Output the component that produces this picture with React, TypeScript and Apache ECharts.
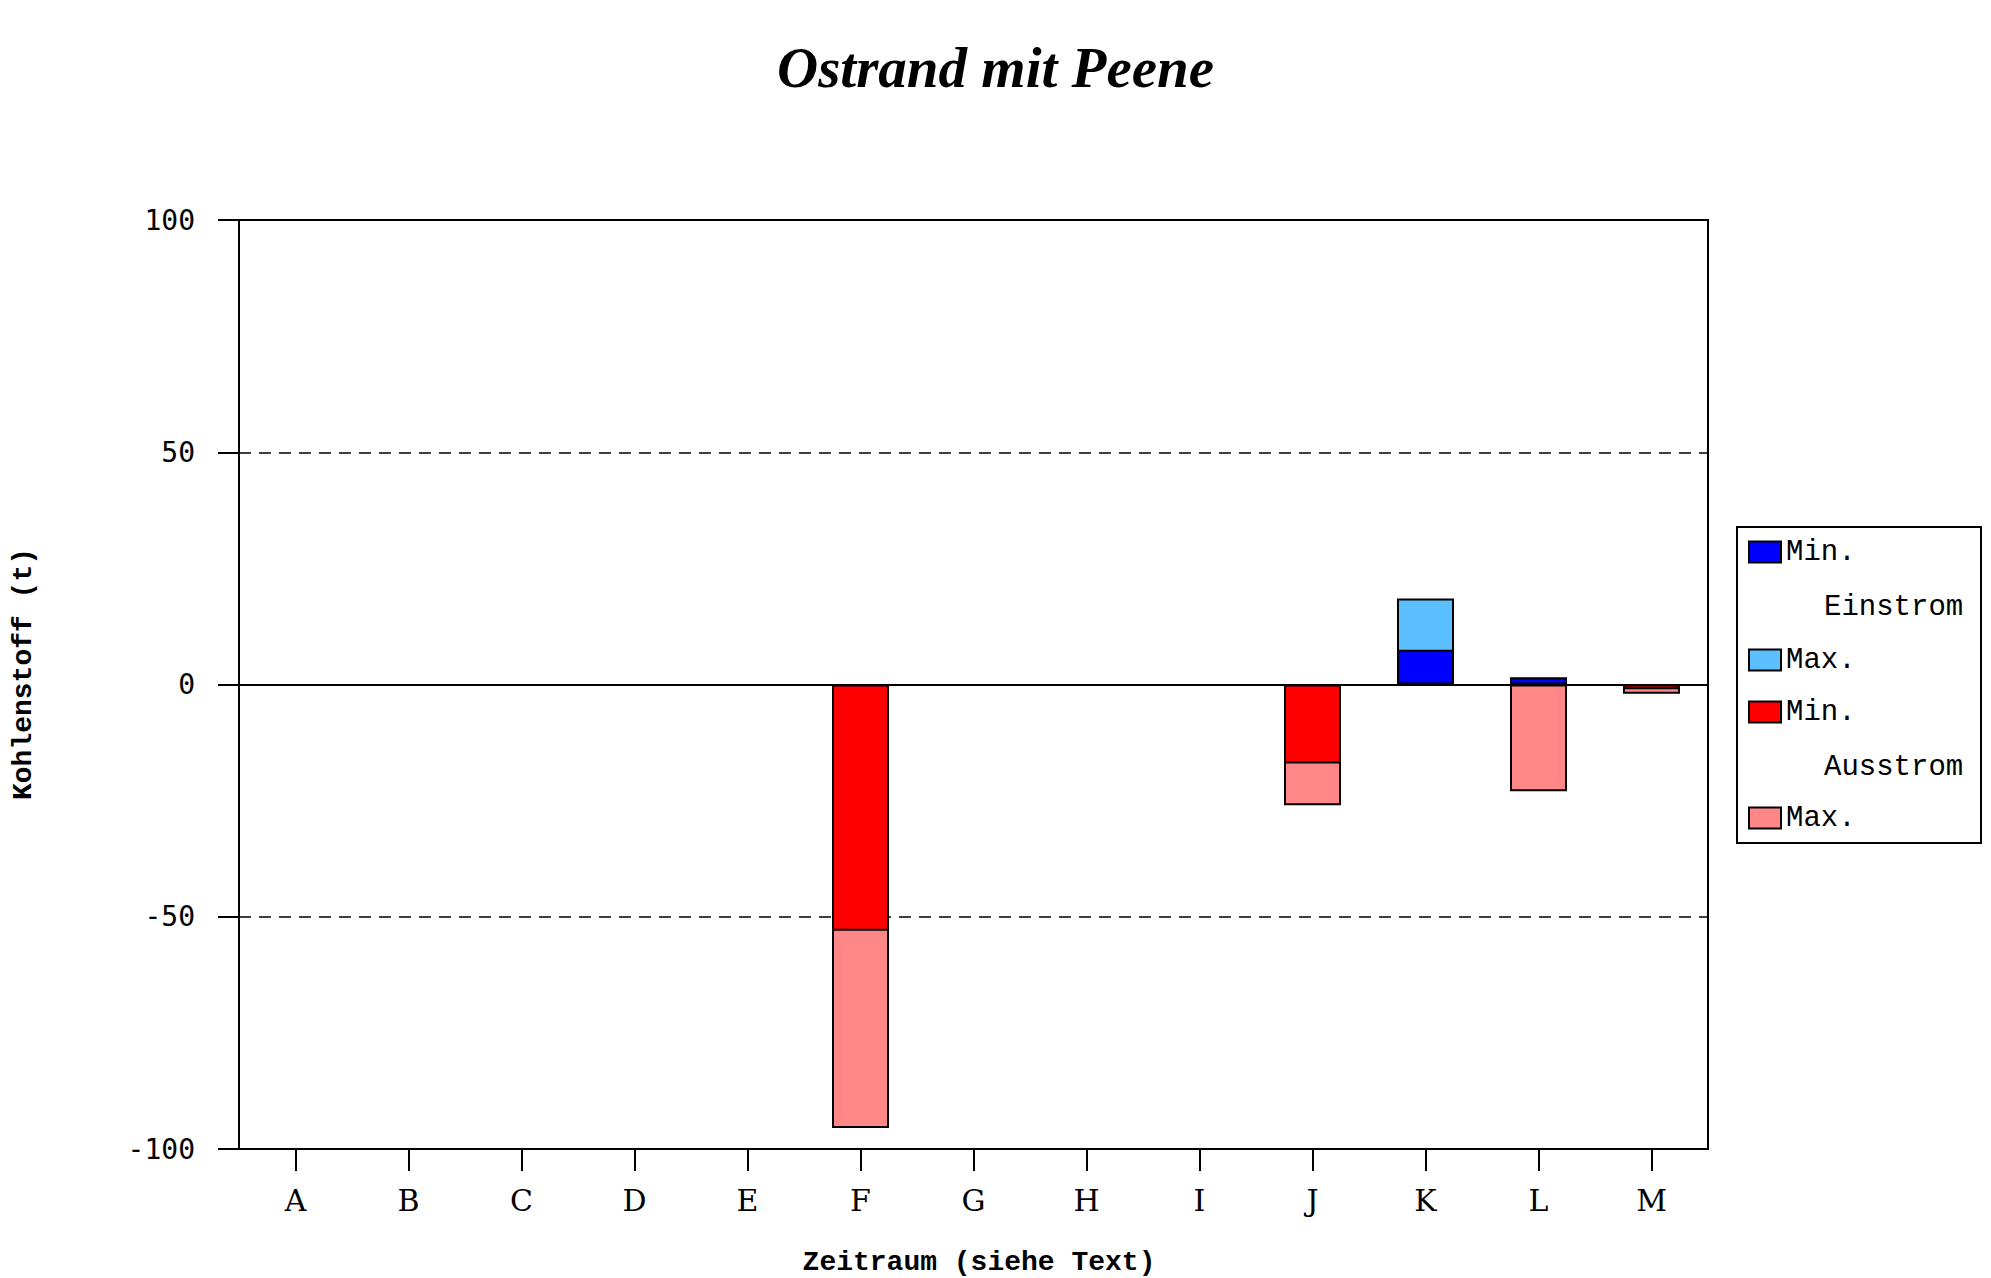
import React, { useEffect, useRef } from "react";
import * as echarts from "echarts";

const categories = ["A", "B", "C", "D", "E", "F", "G", "H", "I", "J", "K", "L", "M"];
const einstromMin = [null, null, null, null, null, null, null, null, null, null, 7.5, 1.5, null];
const einstromMax = [null, null, null, null, null, null, null, null, null, null, 18.5, 1.5, null];
const ausstromMin = [null, null, null, null, null, -53, null, null, null, -17, null, null, -1];
const ausstromMax = [null, null, null, null, null, -95.5, null, null, null, -26, null, -23, -2];
const yTicks = { min: -100, max: 100, interval: 50 };

const NAME_EIN_MIN = "Min. Einstrom";
const NAME_EIN_MAX = "Max. Einstrom";
const NAME_AUS_MIN = "Min. Ausstrom";
const NAME_AUS_MAX = "Max. Ausstrom";

export default function App() {
  const ref = useRef<HTMLDivElement>(null);
  useEffect(() => {
    if (!ref.current) return;
    const chart = echarts.init(ref.current, undefined, { renderer: "svg" });
    const barCommon = {
      type: "bar" as const,
      barWidth: 57,
      barGap: "-100%",
      emphasis: { disabled: true },
    };
    const legendCommon = (name: string, label: string, top: number) => ({
      data: [name],
      left: 1748,
      top,
      padding: 0,
      icon: "rect",
      itemWidth: 32,
      itemHeight: 21,
      selectedMode: false,
      formatter: () => label,
      textStyle: {
        fontFamily: "Liberation Mono",
        fontSize: 29,
        color: "#000",
        lineHeight: 30,
      },
    });
    chart.setOption({
      animation: false,
      backgroundColor: "#fff",
      title: {
        text: "Ostrand mit Peene",
        left: "center",
        top: 34,
        textStyle: {
          fontFamily: "Liberation Serif",
          fontStyle: "italic",
          fontWeight: "bold",
          fontSize: 57,
          color: "#000",
        },
      },
      grid: {
        left: 239,
        right: 283,
        top: 220,
        bottom: 129,
        show: true,
        borderColor: "#000",
        borderWidth: 2,
        containLabel: false,
      },
      legend: [
        legendCommon(NAME_EIN_MIN, "Min.", 537),
        legendCommon(NAME_EIN_MAX, "Max.", 645),
        legendCommon(NAME_AUS_MIN, "Min.", 697),
        legendCommon(NAME_AUS_MAX, "Max.", 803),
      ],
      xAxis: {
        type: "category",
        data: categories,
        boundaryGap: true,
        position: "bottom",
        axisLine: { show: true, onZero: false, lineStyle: { color: "#000", width: 2 } },
        axisTick: {
          show: true,
          alignWithLabel: true,
          interval: 0,
          length: 22,
          lineStyle: { color: "#000", width: 2 },
        },
        axisLabel: {
          margin: 36,
          interval: 0,
          fontFamily: "DejaVu Serif",
          fontSize: 30,
          color: "#000",
        },
        splitLine: { show: false },
      },
      yAxis: {
        type: "value",
        min: yTicks.min,
        max: yTicks.max,
        interval: yTicks.interval,
        axisLine: { show: true, lineStyle: { color: "#000", width: 2 } },
        axisTick: { show: true, length: 21, lineStyle: { color: "#000", width: 2 } },
        axisLabel: {
          margin: 44,
          fontFamily: "DejaVu Sans Mono",
          fontSize: 28,
          color: "#000",
        },
        splitLine: { show: true, lineStyle: { color: "#000", width: 1.5, type: [12, 8] } },
      },
      graphic: [
        {
          type: "rect",
          shape: { x: 1737, y: 527, width: 244, height: 316 },
          style: { fill: "none", stroke: "#000", lineWidth: 2 },
          z: 1,
        },
        {
          type: "text",
          x: 1824,
          y: 607,
          style: {
            text: "Einstrom",
            fontFamily: "Liberation Mono",
            fontSize: 29,
            fill: "#000",
            verticalAlign: "middle",
          },
        },
        {
          type: "text",
          x: 1824,
          y: 767,
          style: {
            text: "Ausstrom",
            fontFamily: "Liberation Mono",
            fontSize: 29,
            fill: "#000",
            verticalAlign: "middle",
          },
        },
        {
          type: "text",
          x: 23,
          y: 674,
          rotation: Math.PI / 2,
          style: {
            text: "Kohlenstoff (t)",
            fontFamily: "Liberation Mono",
            fontWeight: "bold",
            fontSize: 28,
            fill: "#000",
            align: "center",
            verticalAlign: "middle",
          },
        },
        {
          type: "text",
          x: 979,
          y: 1248,
          style: {
            text: "Zeitraum (siehe Text)",
            fontFamily: "Liberation Mono",
            fontWeight: "bold",
            fontSize: 28,
            fill: "#000",
            align: "center",
            verticalAlign: "top",
          },
        },
      ],
      series: [
        {
          ...barCommon,
          name: NAME_EIN_MAX,
          data: einstromMax,
          itemStyle: { color: "#5CBFFF", borderColor: "#000", borderWidth: 2 },
        },
        {
          ...barCommon,
          name: NAME_EIN_MIN,
          data: einstromMin,
          itemStyle: { color: "#0000FF", borderColor: "#000", borderWidth: 2 },
        },
        {
          ...barCommon,
          name: NAME_AUS_MAX,
          data: ausstromMax,
          itemStyle: { color: "#FF8787", borderColor: "#000", borderWidth: 2 },
        },
        {
          ...barCommon,
          name: NAME_AUS_MIN,
          data: ausstromMin,
          itemStyle: { color: "#FF0000", borderColor: "#000", borderWidth: 2 },
          markLine: {
            silent: true,
            symbol: "none",
            label: { show: false },
            lineStyle: { color: "#000", width: 2, type: "solid" },
            data: [{ yAxis: 0 }],
          },
        },
      ],
    });
    return () => chart.dispose();
  }, []);
  return (
    <div
      ref={ref}
      style={{ position: "absolute", left: 0, top: 0, width: 1991, height: 1278 }}
    />
  );
}
